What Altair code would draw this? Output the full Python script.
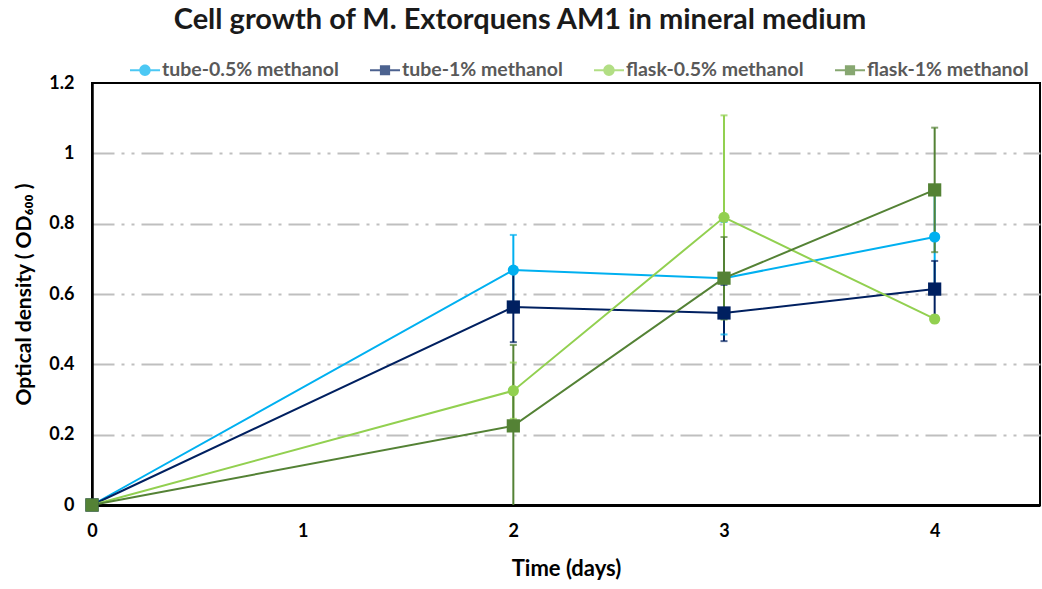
import altair as alt
import pandas as pd

# Sampling days and series
days = [0, 2, 3, 4]
series_names = [
    "tube-0.5% methanol",
    "tube-1% methanol",
    "flask-0.5% methanol",
    "flask-1% methanol",
]
series_colors = ["#00B0F0", "#002060", "#92D050", "#548235"]

# Mean OD600 and error per series
tube_05 = [0.0, 0.668, 0.645, 0.762]
tube_05_err = [0.0, 0.10, 0.16, 0.14]
tube_1 = [0.0, 0.563, 0.546, 0.614]
tube_1_err = [0.0, 0.10, 0.08, 0.08]
flask_05 = [0.0, 0.325, 0.818, 0.529]
flask_05_err = [0.0, 0.08, 0.29, 0.01]
flask_1 = [0.0, 0.225, 0.645, 0.896]
flask_1_err = [0.0, 0.23, 0.117, 0.177]

y_ticks = [0, 0.2, 0.4, 0.6, 0.8, 1.0, 1.2]
x_ticks = [0, 1, 2, 3, 4]

values = [tube_05, tube_1, flask_05, flask_1]
errors = [tube_05_err, tube_1_err, flask_05_err, flask_1_err]

rows = []
for k, name in enumerate(series_names):
    for d, v, e in zip(days, values[k], errors[k]):
        rows.append({"day": d, "series": name, "rank": k, "od": v,
                     "err": e, "lo": v - e, "hi": v + e})
df = pd.DataFrame(rows)

FONT = "Lato"

x_enc = alt.X("day:Q", scale=alt.Scale(domain=[0, 4.5], nice=False, zero=False),
              axis=alt.Axis(values=x_ticks, format="d", title="Time (days)",
                            grid=False, labelFlush=False,
                            ticks=False, tickSize=0, labelPadding=17,
                            labelFontSize=18, labelFontWeight="bold",
                            labelColor="black", labelFont=FONT,
                            titleFont=FONT, titleFontSize=22,
                            titleFontWeight="bold", titleColor="black",
                            titlePadding=18, domainColor="black",
                            domainWidth=3))
y_scale = alt.Scale(domain=[0, 1.2], nice=False)
y_axis = alt.Axis(values=y_ticks, format="~g", title="Optical density ( OD₆₀₀ )",
                  grid=True, gridColor="#BFBFBF", gridWidth=2,
                  gridDash=[22, 7, 3, 7, 3, 7],
                  gridOpacity={"condition": {"test": "datum.value <= 0.01 || datum.value >= 1.19",
                                             "value": 0}, "value": 1},
                  labelFlush=False,
                  ticks=False, tickSize=0, labelPadding=18,
                  labelFontSize=18, labelFontWeight="bold", labelColor="black",
                  labelFont=FONT, titleFont=FONT, titleFontSize=21,
                  titleFontWeight="bold", titleColor="black", titlePadding=14,
                  domainColor="black", domainWidth=2.5)

color_scale = alt.Scale(domain=series_names, range=series_colors)

base = alt.Chart(df)

err_bars = base.mark_rule(strokeWidth=2, clip=True).encode(
    x=x_enc,
    y=alt.Y("lo:Q", scale=y_scale, axis=y_axis),
    y2="hi:Q",
    color=alt.Color("series:N", scale=color_scale, legend=None),
)

caps = alt.layer(
    base.transform_filter("datum.err > 0").mark_tick(
        orient="horizontal", size=7, thickness=2).encode(
        x="day:Q", y="hi:Q",
        color=alt.Color("series:N", scale=color_scale, legend=None)),
    base.transform_filter("datum.err > 0 && datum.lo >= 0").mark_tick(
        orient="horizontal", size=7, thickness=2).encode(
        x="day:Q", y="lo:Q",
        color=alt.Color("series:N", scale=color_scale, legend=None)),
)

lines = base.mark_line(strokeWidth=2).encode(
    x="day:Q", y="od:Q",
    color=alt.Color("series:N", scale=color_scale, legend=None),
    order="day:Q",
)

circles = base.transform_filter("datum.rank % 2 == 0").mark_point(
    shape="circle", filled=True, opacity=1, size=125, strokeWidth=0).encode(
    x="day:Q", y="od:Q",
    color=alt.Color("series:N", scale=color_scale, legend=None),
    order="rank:Q",
)
squares = base.transform_filter("datum.rank % 2 == 1").mark_point(
    shape="square", filled=True, opacity=1, size=175, strokeWidth=0).encode(
    x="day:Q", y="od:Q",
    color=alt.Color("series:N", scale=color_scale, legend=None),
    order="rank:Q",
)

# Legend symbols: a short line with the series marker on it
bar = "M-1,-0.07H1V0.07H-1Z"
circ = "M0.38,0A0.38,0.38 0 1 1 -0.38,0A0.38,0.38 0 1 1 0.38,0Z"
sq = "M-0.34,-0.34H0.34V0.34H-0.34Z"
legend_shapes = [bar + circ, bar + sq, bar + circ, bar + sq]

legend_def = alt.Legend(
    title=None, orient="none", legendX=38, legendY=-28,
    direction="horizontal", symbolSize=900, symbolStrokeWidth=0,
    labelFont=FONT, labelFontSize=19.5, labelFontWeight="bold",
    labelColor="#595959", labelOffset=2, columnPadding=31, labelLimit=400,
)
legend_layer = base.transform_filter("false").mark_point(
    filled=True, size=900, strokeWidth=0).encode(
    x="day:Q", y="od:Q",
    color=alt.Color("series:N", scale=color_scale, legend=legend_def),
    shape=alt.Shape("series:N",
                    scale=alt.Scale(domain=series_names, range=legend_shapes),
                    legend=legend_def),
)

chart = alt.layer(err_bars, caps, lines, circles, squares, legend_layer).resolve_scale(
    color="independent", shape="independent"
).properties(
    width=948, height=422,
    autosize=alt.AutoSizeParams(type="none"),
    padding={"left": 92, "top": 83, "right": 2, "bottom": 84},
    title=alt.TitleParams(
        "Cell growth of M. Extorquens AM1 in mineral medium",
        font=FONT, fontSize=29, fontWeight="bold", color="#1a1a1a",
        anchor="middle", frame="group", dx=-46, offset=20),
    background="white",
).configure_view(stroke="black", strokeWidth=2)

chart.save("out.html", embed_options={"renderer": "svg", "actions": False})
